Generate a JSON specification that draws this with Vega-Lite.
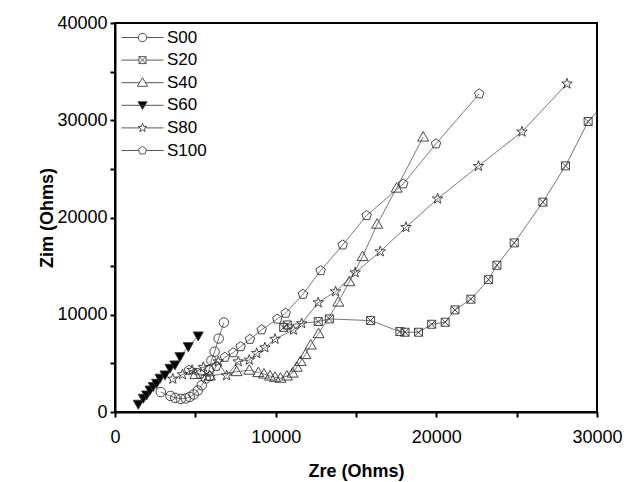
{
  "$schema": "https://vega.github.io/schema/vega-lite/v6.json",
  "autosize": "none",
  "width": 482,
  "height": 389,
  "padding": {"left": 115, "top": 23, "right": 33, "bottom": 70},
  "background": "white",
  "config": {
    "font": "Liberation Sans",
    "view": {"stroke": "black", "strokeWidth": 2},
    "axis": {
      "grid": false, "domainColor": "black", "domainWidth": 2, "tickColor": "black", "tickWidth": 2, "tickSize": 5,
      "labelColor": "black", "labelFontSize": 18, "labelFont": "Liberation Sans",
      "titleColor": "black", "titleFontSize": 18, "titleFont": "Liberation Sans", "titleFontWeight": "bold"
    },
    "legend": {"padding": 0}
  },
  "data": {"values": [
    {"s":"S00","x":2850,"y":2050},{"s":"S00","x":3450,"y":1650},{"s":"S00","x":3750,"y":1450},{"s":"S00","x":4100,"y":1350},{"s":"S00","x":4400,"y":1400},{"s":"S00","x":4650,"y":1550},{"s":"S00","x":4900,"y":1800},{"s":"S00","x":5150,"y":2200},{"s":"S00","x":5400,"y":2750},{"s":"S00","x":5650,"y":3450},{"s":"S00","x":5850,"y":4300},{"s":"S00","x":6000,"y":5300},{"s":"S00","x":6200,"y":6200},{"s":"S00","x":6450,"y":7550},{"s":"S00","x":6780,"y":9200},
    {"s":"S20","x":10500,"y":8700},{"s":"S20","x":10720,"y":8950},{"s":"S20","x":12650,"y":9300},{"s":"S20","x":13340,"y":9570},{"s":"S20","x":15910,"y":9400},{"s":"S20","x":17730,"y":8270},{"s":"S20","x":18050,"y":8200},{"s":"S20","x":18890,"y":8200},{"s":"S20","x":19710,"y":9020},{"s":"S20","x":20550,"y":9230},{"s":"S20","x":21160,"y":10500},{"s":"S20","x":22150,"y":11600},{"s":"S20","x":23250,"y":13610},{"s":"S20","x":23770,"y":15090},{"s":"S20","x":24850,"y":17390},{"s":"S20","x":26630,"y":21580},{"s":"S20","x":28040,"y":25310},{"s":"S20","x":29450,"y":29870},{"s":"S20","x":30600,"y":32000},
    {"s":"S40","x":5000,"y":3850},{"s":"S40","x":5900,"y":3700},{"s":"S40","x":7570,"y":4150},{"s":"S40","x":8360,"y":4300},{"s":"S40","x":8920,"y":4050},{"s":"S40","x":9270,"y":3900},{"s":"S40","x":9650,"y":3700},{"s":"S40","x":9960,"y":3570},{"s":"S40","x":10300,"y":3470},{"s":"S40","x":10700,"y":3700},{"s":"S40","x":11050,"y":4000},{"s":"S40","x":11310,"y":4600},{"s":"S40","x":11550,"y":5200},{"s":"S40","x":11850,"y":5900},{"s":"S40","x":12180,"y":6890},{"s":"S40","x":12670,"y":8050},{"s":"S40","x":13900,"y":11300},{"s":"S40","x":14580,"y":13400},{"s":"S40","x":15410,"y":15980},{"s":"S40","x":16320,"y":19310},{"s":"S40","x":17530,"y":23020},{"s":"S40","x":19180,"y":28270},
    {"s":"S60","x":1450,"y":800},{"s":"S60","x":1760,"y":1410},{"s":"S60","x":1970,"y":1750},{"s":"S60","x":2180,"y":2260},{"s":"S60","x":2380,"y":2610},{"s":"S60","x":2590,"y":2950},{"s":"S60","x":2800,"y":3470},{"s":"S60","x":3110,"y":3810},{"s":"S60","x":3420,"y":4490},{"s":"S60","x":3730,"y":4840},{"s":"S60","x":4040,"y":5690},{"s":"S60","x":4560,"y":6720},{"s":"S60","x":5180,"y":7820},
    {"s":"S80","x":3600,"y":3400},{"s":"S80","x":4200,"y":3850},{"s":"S80","x":4800,"y":4300},{"s":"S80","x":5500,"y":4600},{"s":"S80","x":6430,"y":5180},{"s":"S80","x":6950,"y":3750},{"s":"S80","x":7670,"y":5180},{"s":"S80","x":8360,"y":5350},{"s":"S80","x":8820,"y":6040},{"s":"S80","x":9330,"y":6620},{"s":"S80","x":9960,"y":7500},{"s":"S80","x":11100,"y":8440},{"s":"S80","x":11620,"y":9100},{"s":"S80","x":12650,"y":11250},{"s":"S80","x":13730,"y":12380},{"s":"S80","x":14950,"y":14330},{"s":"S80","x":16510,"y":16500},{"s":"S80","x":18110,"y":19000},{"s":"S80","x":20080,"y":21920},{"s":"S80","x":22620,"y":25280},{"s":"S80","x":25330,"y":28810},{"s":"S80","x":28130,"y":33750},
    {"s":"S100","x":4600,"y":4300},{"s":"S100","x":5300,"y":3900},{"s":"S100","x":5900,"y":3650},{"s":"S100","x":6300,"y":4700},{"s":"S100","x":6840,"y":5630},{"s":"S100","x":7360,"y":6100},{"s":"S100","x":7820,"y":6720},{"s":"S100","x":8400,"y":7480},{"s":"S100","x":9130,"y":8460},{"s":"S100","x":10100,"y":9560},{"s":"S100","x":10620,"y":10160},{"s":"S100","x":11700,"y":12110},{"s":"S100","x":12800,"y":14540},{"s":"S100","x":14170,"y":17180},{"s":"S100","x":15660,"y":20200},{"s":"S100","x":17940,"y":23460},{"s":"S100","x":19980,"y":27580},{"s":"S100","x":22670,"y":32720}
  ]},
  "encoding": {
    "x": {"field": "x", "type": "quantitative", "scale": {"domain": [0, 30000], "nice": false},
      "axis": {"title": "Zre (Ohms)", "values": [0,5000,10000,15000,20000,25000,30000], "format": "d",
        "labelExpr": "datum.value % 10000 === 0 ? datum.label : ''", "labelPadding": 11, "titlePadding": 16, "labelFlush": false}},
    "y": {"field": "y", "type": "quantitative", "scale": {"domain": [0, 40000], "nice": false},
      "axis": {"title": "Zim (Ohms)", "values": [0,5000,10000,15000,20000,25000,30000,35000,40000], "format": "d",
        "labelExpr": "datum.value % 10000 === 0 ? datum.label : ''", "labelPadding": 3, "titlePadding": 0, "labelFlush": false}}
  },
  "resolve": {"scale": {"shape": "independent", "fill": "independent", "stroke": "independent"}},
  "layer": [
    {
      "mark": {"type": "line", "color": "#555555", "strokeWidth": 0.8, "clip": true},
      "encoding": {"detail": {"field": "s"}, "order": {"value": null}}
    },
    {
      "mark": {"type": "point", "filled": false, "stroke": "#333333", "strokeWidth": 0.9, "size": 100, "opacity": 1, "clip": true},
      "encoding": {
        "shape": {"field": "s", "type": "nominal", "legend": null,
          "scale": {"domain": ["S00","S20","S40","S60","S80","S100"],
            "range": [
              "M0.95,0A0.95,0.95 0 1,1 -0.95,0A0.95,0.95 0 1,1 0.95,0Z",
              "M-0.8,-0.8H0.8V0.8H-0.8ZM-0.8,-0.8L0.8,0.8M-0.8,0.8L0.8,-0.8",
              "M0,-1.1L1.1,0.8H-1.1Z",
              "M-1,-0.8H1L0,1Z",
              "M0,-1.1L0.26,-0.36L1.05,-0.34L0.42,0.14L0.65,0.89L0,0.44L-0.65,0.89L-0.42,0.14L-1.05,-0.34L-0.26,-0.36Z",
              "M0,-1L0.95,-0.31L0.59,0.81L-0.59,0.81L-0.95,-0.31Z"
            ]}
        },
        "fill": {"condition": {"test": "datum.s === 'S60'", "value": "black"}, "value": "transparent"},
        "order": {"value": null}
      }
    },
    {
      "mark": {"type": "point", "filled": false, "strokeWidth": 0.9, "size": 400, "opacity": 0},
      "encoding": {
        "shape": {"field": "s", "type": "nominal",
          "scale": {"domain": ["S00","S20","S40","S60","S80","S100"],
            "range": [
              "M-2.1,0H-0.42M0.42,0H2.1M0.42,0A0.42,0.42 0 1,1 -0.42,0A0.42,0.42 0 1,1 0.42,0Z",
              "M-2.1,0H-0.35M0.35,0H2.1M-0.35,-0.35H0.35V0.35H-0.35ZM-0.35,-0.35L0.35,0.35M-0.35,0.35L0.35,-0.35",
              "M-2.1,0H-0.3M0.3,0H2.1M0,-0.5L0.52,0.36H-0.52Z",
              "M-2.1,0H2.1M-0.46,-0.36H0.46L0,0.42Z",
              "M-2.1,0H-0.3M0.3,0H2.1M0,-0.46L0.108,-0.149L0.437,-0.142L0.175,0.057L0.27,0.372L0,0.184L-0.27,0.372L-0.175,0.057L-0.437,-0.142L-0.108,-0.149Z",
              "M-2.1,0H-0.36M0.36,0H2.1M0,-0.42L0.4,-0.13L0.248,0.34L-0.248,0.34L-0.4,-0.13Z"
            ]},
          "legend": {
            "title": null, "orient": "none", "legendX": 17, "legendY": 4,
            "symbolSize": 400, "symbolStrokeWidth": 0.9, "symbolOpacity": 1,
            "labelFontSize": 17, "labelFont": "Liberation Sans", "labelColor": "black", "labelOffset": 14, "rowPadding": 3.6
          }
        },
        "fill": {"field": "s", "type": "nominal",
          "scale": {"domain": ["S00","S20","S40","S60","S80","S100"], "range": ["transparent","transparent","transparent","black","transparent","transparent"]},
          "legend": {
            "title": null, "orient": "none", "legendX": 17, "legendY": 4,
            "symbolSize": 400, "symbolStrokeWidth": 0.9, "symbolOpacity": 1,
            "labelFontSize": 17, "labelFont": "Liberation Sans", "labelColor": "black", "labelOffset": 14, "rowPadding": 3.6
          }
        },
        "stroke": {"field": "s", "type": "nominal",
          "scale": {"domain": ["S00","S20","S40","S60","S80","S100"], "range": ["#444444","#444444","#444444","#444444","#444444","#444444"]},
          "legend": {
            "title": null, "orient": "none", "legendX": 17, "legendY": 4,
            "symbolSize": 400, "symbolStrokeWidth": 0.9, "symbolOpacity": 1,
            "labelFontSize": 17, "labelFont": "Liberation Sans", "labelColor": "black", "labelOffset": 14, "rowPadding": 3.6
          }
        }
      }
    }
  ]
}
